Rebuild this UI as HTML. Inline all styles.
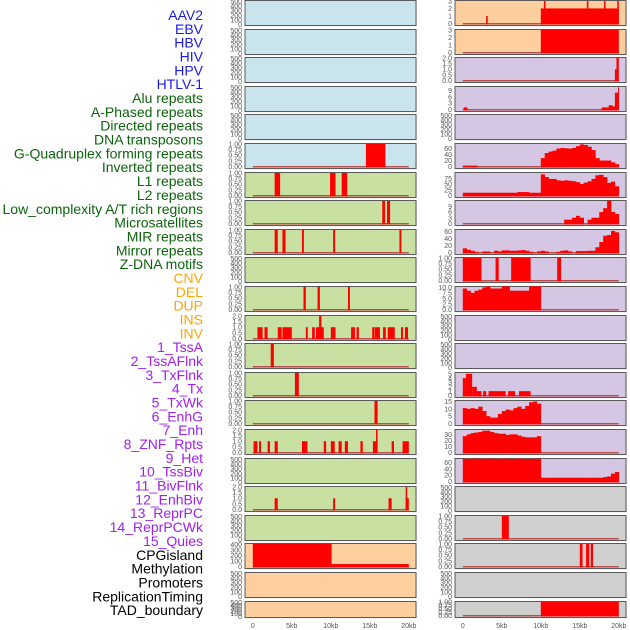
<!DOCTYPE html>
<html><head><meta charset="utf-8"><style>
html,body{margin:0;padding:0;background:#fff;width:630px;height:630px;overflow:hidden}
svg{display:block}
</style></head><body>
<svg id="chart" width="630" height="630" viewBox="0 0 630 630" xmlns="http://www.w3.org/2000/svg"></svg>
<script>
// ---- track names ----
const trackLabels = ["AAV2","EBV","HBV","HIV","HPV","HTLV-1","Alu repeats","A-Phased repeats","Directed repeats","DNA transposons","G-Quadruplex forming repeats","Inverted repeats","L1 repeats","L2 repeats","Low_complexity A/T rich regions","Microsatellites","MIR repeats","Mirror repeats","Z-DNA motifs","CNV","DEL","DUP","INS","INV","1_TssA","2_TssAFlnk","3_TxFlnk","4_Tx","5_TxWk","6_EnhG","7_Enh","8_ZNF_Rpts","9_Het","10_TssBiv","11_BivFlnk","12_EnhBiv","13_ReprPC","14_ReprPCWk","15_Quies","CPGisland","Methylation","Promoters","ReplicationTiming","TAD_boundary"];
const labelGroups = ["v","v","v","v","v","v","r","r","r","r","r","r","r","r","r","r","r","r","r","s","s","s","s","s","c","c","c","c","c","c","c","c","c","c","c","c","c","c","c","o","o","o","o","o"];
const xTickLabels = ["0","5kb","10kb","15kb","20kb"];
const xTickValues = [0,5,10,15,20];

// ---- tick sets ----
const T500 = ["0","100","200","300","400","500"];
const T1 = ["0.00","0.25","0.50","0.75","1.00"];
const T2 = ["0.0","0.5","1.0","1.5","2.0"];

// ---- left column bars [startKb, endKb, value] ----
const L6_bars = [[14.5,17,1]];
const L7_bars = [[2.8,3.5,1],[9.9,10.6,1],[11.4,12.1,1]];
const L8_bars = [[16.6,16.95,1],[17.2,17.6,1]];
const L9_bars = [[2.8,3.2,1],[3.8,4.2,1],[6.3,6.55,1],[10.3,10.55,1],[18.8,19.05,1]];
const L11_bars = [[6.5,6.8,1],[8.3,8.6,1],[12.2,12.45,1]];
const L12_bars = [[0.6,1.25,1],[1.5,1.9,1],[3.2,3.7,1],[3.8,5.0,1],[6.8,7.05,1],[7.6,7.95,1],[8.1,9.1,1],[8.5,8.8,2],[10.0,10.6,1],[12.6,13.1,1],[13.3,13.6,1],[15.3,15.55,1],[15.6,16.3,1],[16.7,17.05,1],[17.3,18.2,1],[19.0,19.25,1],[19.5,19.9,1]];
const L13_bars = [[2.3,2.7,1]];
const L14_bars = [[5.4,5.9,1]];
const L15_bars = [[15.6,16.0,1]];
const L16_bars = [[0.1,0.6,1],[0.8,1.05,1],[1.9,2.2,1],[2.8,3.2,1],[6.3,7.0,1],[9.1,9.4,1],[10.0,10.5,1],[11.0,11.4,1],[11.8,12.2,1],[13.8,14.1,1],[15.4,16.0,1],[15.8,16.0,2],[17.8,18.1,1],[19.2,20.0,1]];
const L18_bars = [[2.8,3.2,1],[10.3,10.55,1],[17.4,17.8,1],[19.6,20.0,1],[19.6,19.8,2]];
const L20_bars = [[0,10.1,420],[10.1,20,45]];

// ---- right column bars / binned series ----
const R1_bars = [[3.0,3.2,1],[10,20,2],[10.4,10.6,3],[15.9,16.1,3],[18.1,18.3,3],[19.8,20,3]];
const R2_bars = [[10,20,3]];
const R3_bars = [[19.5,19.7,1],[19.7,20,2]];
const R4_bars = [[0.1,0.6,1],[17.8,18.7,1],[18.7,19.2,2],[19.2,19.5,1.5],[19.5,19.9,8],[19.9,20,10.5]];
const R6_bars = [[0,1.9,3]];
const R6_vals = [28,45,50,53,60,62,61,60,62,68,74,72,66,55,28,20,20,20,14,8];
const R7_vals = [12,12,12,12,12,12,12,12,12,12,12,12,12,12,15,15,15,12,12,12,92,80,72,72,66,64,66,64,62,58,50,56,62,72,88,90,80,55,60,40];
const R8_vals = [2,2,3,4,3,0,2,3,3,6,8,12,6,5];
const R9_vals = [12,8,5,2,0,3,3,0,5,3,6,6,5,5,6,7,5,2,0,3,5,3,0,0,2,5,6,3,0,4,4,4,5,5,15,30,48,50,62,58];
const R10_bars = [[0,2.4,1],[4.2,4.6,1],[6.2,8.7,1],[12.1,12.6,1]];
const R11_vals = [9.5,8.5,7.5,8.5,9,10,10.5,9.5,9.5,9.5,10.5,10.5,8.5,8.5,8.5,8.5,8.5,10.5,10.5,10.5];
const R14_bars = [[0,0.4,4],[0.4,1.2,5],[1.2,1.8,2],[1.8,2.4,1],[2.6,3.0,1],[3.3,5.5,1],[5.8,6.7,1],[7.2,8.7,1]];
const R15_vals = [10.5,10,10.5,10,11.5,8.5,5,4,4,6.5,8.5,9.5,9,10.5,11.5,10,12,14.5,15,13.5];
const R16_vals = [27,30,32,33,34,36,36,34,32,31,31,29,30,30,28,26,25,25,25,27];
const R17_vals = [72,72,72,73,72,72,73,72,72,72,73,72,72,72,73,72,72,72,72,72,12,12,12,12,12,12,12,12,12,12,12,12,12,12,12,12,14,16,25,30];
const R19_bars = [[5.0,5.9,1]];
const R20_bars = [[15.0,15.35,1],[15.8,16.2,1],[16.4,16.7,1]];
const R22_bars = [[10,20,1]];

// panel specs: bg, ticks, top value, bars, series {start, step, vals}
const BLUE="#c9e4ec", GREEN="#c8e1a2", ORANGE="#fecf9e", LAV="#d5c7e3", GRAY="#cfcfcf";
const E = {ticks:T500, top:500, empty:true};
const leftPanels = [
 {bg:BLUE,...E},{bg:BLUE,...E},{bg:BLUE,...E},{bg:BLUE,...E},{bg:BLUE,...E},
 {bg:BLUE,ticks:T1,top:1.02,bars:L6_bars},
 {bg:GREEN,ticks:T1,top:1.02,bars:L7_bars},
 {bg:GREEN,ticks:T1,top:1.02,bars:L8_bars},
 {bg:GREEN,ticks:T1,top:1.02,bars:L9_bars},
 {bg:GREEN,...E},
 {bg:GREEN,ticks:T1,top:1.02,bars:L11_bars},
 {bg:GREEN,ticks:T2,top:2.04,bars:L12_bars},
 {bg:GREEN,ticks:T1,top:1.02,bars:L13_bars},
 {bg:GREEN,ticks:T1,top:1.02,bars:L14_bars},
 {bg:GREEN,ticks:T1,top:1.02,bars:L15_bars},
 {bg:GREEN,ticks:T2,top:2.04,bars:L16_bars},
 {bg:GREEN,...E},
 {bg:GREEN,ticks:T2,top:2.04,bars:L18_bars},
 {bg:GREEN,...E},
 {bg:ORANGE,ticks:["0","100","200","300","400"],top:420,bars:L20_bars},
 {bg:ORANGE,...E},
 {bg:ORANGE,...E}
];
const rightPanels = [
 {bg:ORANGE,ticks:["0","1","2","3"],top:3.05,bars:R1_bars},
 {bg:ORANGE,ticks:["0","1","2","3"],top:3.05,bars:R2_bars},
 {bg:LAV,ticks:T2,top:2.04,bars:R3_bars},
 {bg:LAV,ticks:["0","3","6","9"],top:10.9,bars:R4_bars},
 {bg:LAV,...E},
 {bg:LAV,ticks:["0","20","40","60"],top:77,bars:R6_bars,series:{start:10,step:0.5,vals:R6_vals}},
 {bg:LAV,ticks:["0","25","50","75"],top:100,series:{start:0,step:0.5,vals:R7_vals}},
 {bg:LAV,ticks:["0","3","6","9"],top:12,series:{start:13,step:0.5,vals:R8_vals}},
 {bg:LAV,ticks:["0","20","40","60"],top:66,series:{start:0,step:0.5,vals:R9_vals}},
 {bg:LAV,ticks:T1,top:1.02,bars:R10_bars},
 {bg:LAV,ticks:["0.0","2.5","5.0","7.5","10.0"],top:10.4,series:{start:0,step:0.5,vals:R11_vals}},
 {bg:LAV,...E},
 {bg:LAV,...E},
 {bg:LAV,ticks:["0","1","2","3","4","5"],top:5.3,bars:R14_bars},
 {bg:LAV,ticks:["0","5","10","15"],top:15.7,series:{start:0,step:0.5,vals:R15_vals}},
 {bg:LAV,ticks:["0","10","20","30"],top:38,series:{start:0,step:0.5,vals:R16_vals}},
 {bg:LAV,ticks:["0","20","40","60"],top:73,series:{start:0,step:0.5,vals:R17_vals}},
 {bg:GRAY,...E},
 {bg:GRAY,ticks:T1,top:1.02,bars:R19_bars},
 {bg:GRAY,ticks:T1,top:1.02,bars:R20_bars},
 {bg:GRAY,...E},
 {bg:GRAY,ticks:T1,top:1.02,bars:R22_bars}
];

const NS="http://www.w3.org/2000/svg";
const svg=document.getElementById('chart');
function mk(tag,attrs,parent){const e=document.createElementNS(NS,tag);for(const k in attrs)e.setAttribute(k,attrs[k]);(parent||svg).appendChild(e);return e;}

const colors={v:"#1a1ae6",r:"#0b650b",s:"#ffa500",c:"#a020f0",o:"#000000"};
trackLabels.forEach((t,i)=>{
  const e=mk('text',{x:203,y:20+i*13.84,'text-anchor':'end','font-family':'Liberation Sans, sans-serif','font-size':'14',fill:colors[labelGroups[i]]});
  e.textContent=t;
  
  
});

function rowTop(i){return Math.round(i*28.6);}
function drawColumn(panels,left,colName){
  const W=171;
  const xs=kb=>left+7.8+kb*7.8;
  panels.forEach((p,i)=>{
    const top=rowTop(i)+0.5;
    const h=(i===panels.length-1)?16:25;
    const bottom=top+h;
    const ys=v=>bottom-2-(v/p.top)*(h-2);
    const g=mk('g',{});
    
    
    mk('rect',{x:left+1,y:top+1,width:W,height:h,fill:'#e8e8e8'},g);
    mk('rect',{x:left,y:top,width:W,height:h,fill:p.bg,stroke:'#5a5a5a','stroke-width':1},g);
    if(!p.empty){
      const bl=mk('rect',{x:xs(0),y:ys(0)-0.5,width:xs(20)-xs(0),height:1.5,fill:'#b85050'},g);
      
      
    }
    (p.bars||[]).forEach(b=>{
      const r=mk('rect',{x:xs(b[0]),y:ys(b[2]),width:Math.max(1,xs(b[1])-xs(b[0])),height:ys(0)-ys(b[2])+1,fill:'#ff0000'},g);
      
      
    });
    if(p.series){
      const s=p.series;
      s.vals.forEach((v,k)=>{
        if(v<=0)return;
        const x0=xs(s.start+k*s.step), x1=xs(s.start+(k+1)*s.step);
        const r=mk('rect',{x:x0,y:ys(v),width:x1-x0+0.3,height:ys(0)-ys(v)+1,fill:'#ff0000'},g);
        
        
      });
    }
    const n=p.ticks.length;
    const maxV=parseFloat(p.ticks[n-1]);
    p.ticks.forEach(t=>{
      const v=parseFloat(t);
      const y=p.empty?(bottom-1-(v/500)*(h-2)):ys(v);
      const e=mk('text',{x:left-3,y:y+2.5,'text-anchor':'end','font-family':'Liberation Sans, sans-serif','font-size':'7',fill:'#555'},g);
      e.textContent=t;
      
      
    });
  });
  xTickValues.forEach((v,k)=>{
    const e=mk('text',{x:xs(v),y:628,'text-anchor':'middle','font-family':'Liberation Sans, sans-serif','font-size':'7',fill:'#555'});
    e.textContent=xTickLabels[k];
    
    
  });
}
drawColumn(leftPanels,245,'left');
drawColumn(rightPanels,455,'right');
</script>
</body></html>
